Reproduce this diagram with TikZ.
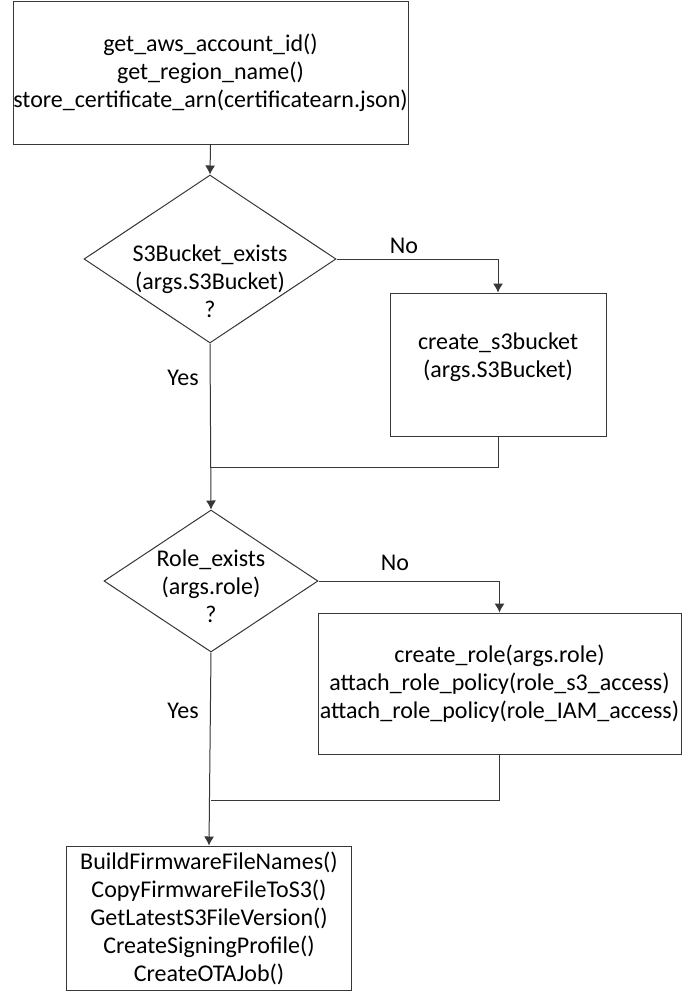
\documentclass[tikz,border=0pt]{standalone}
\usepackage{fontspec}
\setmainfont{Carlito}
\usetikzlibrary{shapes.geometric,arrows.meta}
\definecolor{linegray}{RGB}{55,55,55}

\begin{document}
\begin{tikzpicture}[x=1pt,y=-1pt,
    font=\fontsize{24}{28}\selectfont,
    box/.style={draw=linegray,line width=1pt,inner sep=0pt,align=center},
    decision/.style={draw=linegray,line width=1pt,diamond,inner sep=0pt},
    flow/.style={draw=linegray,line width=1pt,-{Latex[length=9pt,width=10pt]}},
    joint/.style={draw=linegray,line width=1pt}]
\useasboundingbox[fill=white] (0,0) rectangle (691,1005); % page

% setup
\node[box,minimum width=395,minimum height=143] (init) at (210.5,72.5)
    {get\_aws\_account\_id()\\get\_region\_name()\\store\_certificate\_arn(certificatearn.json)};

% bucket check
\node[decision,minimum width=252,minimum height=168] (s3q) at (210,259) {};
\node[align=center] (s3qtext) at (210,281) {S3Bucket\_exists\\(args.S3Bucket)\\?};
\node[box,minimum width=216,minimum height=143] (mkbucket) at (498,364.5) {};
\node[align=center] (mkbuckettext) at (498,357) {create\_s3bucket\\(args.S3Bucket)};
\coordinate (merge1) at (210,467); % bucket join

% role check
\node[decision,minimum width=214,minimum height=142] (role) at (211,581) {};
\node[align=center] (roletext) at (211,586) {Role\_exists\\(args.role)\\?};
\node[box,minimum width=363,minimum height=141] (mkrole) at (499.5,683.5)
    {create\_role(args.role)\\attach\_role\_policy(role\_s3\_access)\\attach\_role\_policy(role\_IAM\_access)};
\coordinate (merge2) at (211,800); % role join

% firmware + job
\node[box,minimum width=285,minimum height=144] (fw) at (209,918)
    {BuildFirmwareFileNames()\\CopyFirmwareFileToS3()\\GetLatestS3FileVersion()\\CreateSigningProfile()\\CreateOTAJob()};

% branch labels
\node (no1) at (404,246) {No};
\node (yes1) at (183,378) {Yes};
\node (no2) at (395,563) {No};
\node (yes2) at (183,711) {Yes};

% connectors
\draw[flow] (init.south) -- (s3q.north); % into bucket check
\draw[flow] (s3q.east) -| (mkbucket.north); % no bucket
\draw[joint] (mkbucket.south) |- (merge1); % back to main line
\draw[flow] (s3q.south) -- (role.north); % yes bucket
\draw[flow] (role.east) -| (mkrole.north); % no role
\draw[joint] (mkrole.south) |- (merge2); % back to main line
\draw[flow] (role.south) -- (fw.north); % yes role
\end{tikzpicture}
\end{document}
